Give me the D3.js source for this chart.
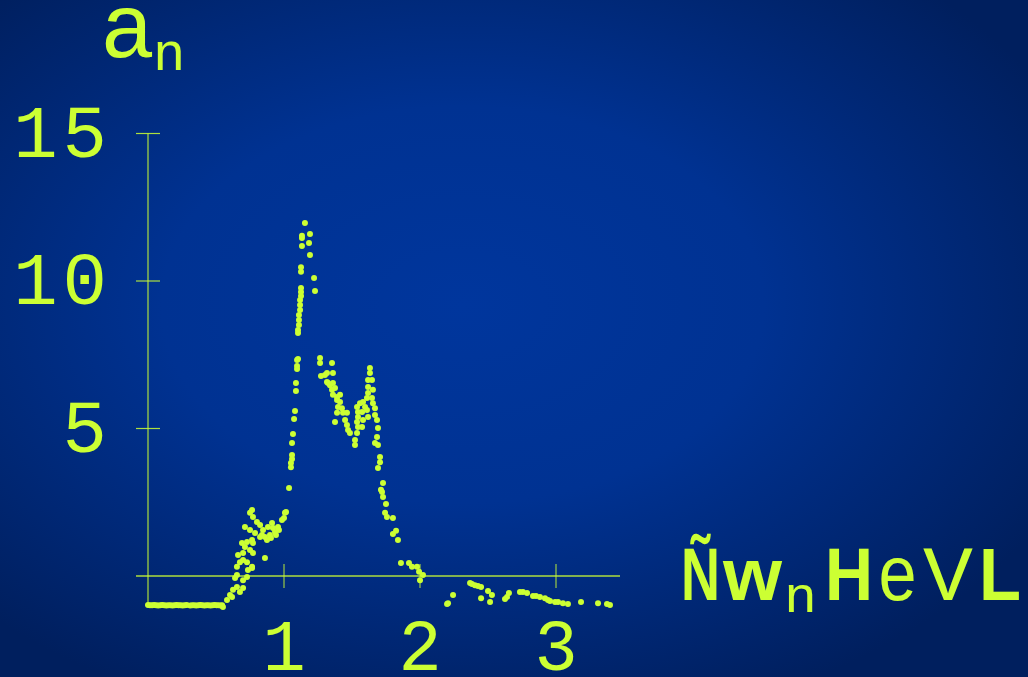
<!DOCTYPE html>
<html>
<head>
<meta charset="utf-8">
<script src="https://cdn.jsdelivr.net/npm/d3@7"></script>
<style>
html,body{margin:0;padding:0;background:#002a7a;}
svg{display:block;}
</style>
</head>
<body>
<svg id="chart" width="1028" height="677"></svg>
<script>
// photon energy (eV)
const omegaN = [
  0.00,0.015,0.03,0.045,0.06,0.075,0.09,0.105,0.12,0.135,0.15,0.165,0.18,0.195,0.21,0.225,0.24,0.255,0.27,0.285,
  0.31,0.325,0.34,0.355,0.37,0.385,0.40,0.415,0.43,0.445,0.46,0.475,0.49,0.505,0.52,0.535,0.545,
  0.551,0.581,0.603,0.618,0.625,0.654,0.676,0.699,0.640,0.654,0.699,0.728,0.735,0.765,0.654,0.676,0.699,0.728,0.765,
  0.662,0.699,0.750,0.772,0.860,0.691,0.728,0.765,0.713,0.772,0.713,0.750,0.787,0.824,0.860,0.897,0.934,0.956,0.985,
  1.007,1.015,1.000,0.750,0.772,0.801,0.765,0.824,0.846,0.882,0.912,0.919,0.838,0.875,0.904,0.941,0.963,
  1.037,1.051,1.051,1.059,1.059,1.059,1.066,1.074,1.081,1.088,1.088,1.096,1.096,1.096,1.103,1.103,1.103,1.110,1.110,
  1.110,1.118,1.118,1.118,1.125,1.125,1.125,1.125,1.125,1.132,1.132,1.132,1.154,1.191,1.184,1.191,1.221,1.228,
  1.265,1.265,1.353,1.272,1.316,1.360,1.316,1.324,1.360,1.375,1.353,1.360,1.390,1.412,1.390,1.412,1.397,1.390,1.426,
  1.434,1.463,1.449,1.463,1.471,1.485,1.375,1.301,1.338,
  1.537,1.544,1.544,1.537,1.544,1.537,1.522,1.522,1.559,1.581,1.610,1.618,1.618,1.618,1.632,1.632,1.647,1.654,1.647,
  1.654,1.669,1.669,1.684,1.691,1.684,1.669,1.691,1.706,1.706,1.691,1.574,1.581,1.574,1.610,1.618,1.596,
  1.728,1.713,1.728,1.750,1.743,1.757,1.801,1.824,1.801,1.838,1.721,1.860,1.919,1.941,1.978,1.993,2.022,2.000,
  2.199,2.206,2.243,2.368,2.382,2.404,2.426,2.449,2.500,2.529,2.449,2.515,2.640,2.654,2.625,2.735,2.757,2.787,2.831,
  2.853,2.882,2.919,2.941,2.956,2.993,3.015,3.051,3.088,3.184,3.309,3.375,3.397
];
// absorption coefficient a_n
const aN = [
  -0.98,-0.99,-0.99,-0.98,-0.99,-1.00,-0.99,-0.98,-0.99,-1.00,-0.99,-0.99,-1.00,-0.99,-0.98,-0.99,-0.99,-1.00,-0.99,-0.98,
  -1.00,-0.99,-0.99,-1.00,-0.99,-0.98,-0.99,-1.00,-0.99,-0.99,-1.00,-0.99,-0.98,-0.99,-0.99,-1.00,-0.99,
  -1.05,-0.81,-0.64,-0.71,-0.47,-0.37,-0.54,-0.41,-0.07,0.03,-0.14,-0.03,0.20,0.27,0.31,0.47,0.54,0.47,0.31,
  0.71,0.78,0.88,0.78,0.61,1.12,1.15,1.22,0.98,1.12,1.66,1.56,1.46,1.32,1.32,1.39,1.49,1.66,1.90,
  2.14,2.17,1.97,2.14,2.00,1.83,2.24,1.73,1.56,1.66,1.80,1.63,1.39,1.22,1.29,1.39,1.56,
  2.98,3.69,3.83,3.97,4.10,4.51,4.81,5.32,5.59,6.27,6.54,7.02,7.12,7.32,7.36,8.24,8.34,8.51,8.68,
  8.85,9.02,9.19,9.36,9.49,9.63,9.76,10.31,10.47,11.19,11.46,11.53,11.97,11.59,11.29,10.88,10.10,9.66,
  7.39,7.22,7.22,6.78,6.88,6.88,6.58,6.54,6.54,6.37,6.31,6.14,6.07,6.14,5.97,5.90,5.73,5.53,5.69,
  5.53,5.53,5.29,5.12,4.95,4.85,5.22,6.81,6.47,
  5.73,5.56,5.39,5.22,5.05,4.85,4.61,4.44,5.86,5.90,6.03,6.20,6.41,6.64,6.88,7.05,6.64,6.31,6.03,
  5.86,5.69,5.46,5.29,5.02,4.71,4.51,4.44,4.03,3.86,3.66,5.56,5.29,5.05,5.63,5.39,5.73,
  3.15,2.92,2.68,2.44,2.14,2.00,1.97,1.53,1.42,1.22,2.85,0.44,0.44,0.31,0.31,0.14,0.03,-0.14,
  -0.95,-0.92,-0.64,-0.24,-0.27,-0.31,-0.34,-0.37,-0.51,-0.64,-0.75,-0.88,-0.71,-0.58,-0.78,-0.54,-0.54,-0.58,-0.68,
  -0.68,-0.71,-0.75,-0.81,-0.85,-0.88,-0.88,-0.92,-0.95,-0.88,-0.92,-0.95,-0.98
];
const xTicks = [1, 2, 3];
const yTicks = [5, 10, 15];
const xTickLabels = ["1", "2", "3"];
const yTickLabels = ["5", "10", "15"];

const svg = d3.select("#chart");
const W = 1028, H = 677;
const FG = "#ccff33";

// background gradient
const defs = svg.append("defs");
const grad = defs.append("radialGradient").attr("id", "bg")
  .attr("cx", "45%").attr("cy", "45%").attr("r", "65%");
grad.append("stop").attr("offset", "0%").attr("stop-color", "#00369d");
grad.append("stop").attr("offset", "45%").attr("stop-color", "#003292");
grad.append("stop").attr("offset", "100%").attr("stop-color", "#001f5e");
svg.append("rect").attr("width", W).attr("height", H).attr("fill", "url(#bg)");

const x = d3.scaleLinear().domain([0, 3]).range([148, 556]);
const y = d3.scaleLinear().domain([0, 15]).range([576, 133.5]);

// axes lines
svg.append("line").attr("x1", x(0)).attr("x2", x(0))
  .attr("y1", y(15)).attr("y2", y(-1))
  .attr("stroke", FG).attr("stroke-width", 1.2).attr("opacity", 0.85);
svg.append("line").attr("x1", 136).attr("x2", 620)
  .attr("y1", y(0)).attr("y2", y(0))
  .attr("stroke", FG).attr("stroke-width", 1.5).attr("opacity", 0.85);

// y ticks
svg.selectAll(".yt").data(yTicks).enter().append("line")
  .attr("x1", 136).attr("x2", 160)
  .attr("y1", d => y(d)).attr("y2", d => y(d))
  .attr("stroke", FG).attr("stroke-width", 1.2).attr("opacity", 0.85);
svg.selectAll(".ytl").data(yTicks).enter().append("text")
  .attr("x", 112).attr("y", d => y(d) + 23)
  .attr("text-anchor", "end")
  .attr("font-family", "Liberation Mono, monospace")
  .attr("font-size", 74).attr("letter-spacing", 5)
  .attr("fill", FG)
  .text((d, i) => yTickLabels[i]);

// x ticks
svg.selectAll(".xt").data(xTicks).enter().append("line")
  .attr("x1", d => x(d)).attr("x2", d => x(d))
  .attr("y1", y(0) - 12).attr("y2", y(0) + 12)
  .attr("stroke", FG).attr("stroke-width", 1.5).attr("opacity", 0.6);
svg.selectAll(".xtl").data(xTicks).enter().append("text")
  .attr("x", d => x(d)).attr("y", 670)
  .attr("text-anchor", "middle")
  .attr("font-family", "Liberation Mono, monospace")
  .attr("font-size", 72)
  .attr("fill", FG)
  .text((d, i) => xTickLabels[i]);

// data points
const pts = omegaN.map((v, i) => [v, aN[i]]);
svg.selectAll(".pt").data(pts).enter().append("circle")
  .attr("cx", d => x(d[0])).attr("cy", d => y(d[1]))
  .attr("r", 3).attr("fill", FG);

// y-axis label a_n
svg.append("text").attr("x", 102).attr("y", 57)
  .attr("font-family", "Liberation Sans, Arial, sans-serif")
  .attr("font-size", 90).attr("fill", FG).text("a");
svg.append("text").attr("x", 153).attr("y", 70)
  .attr("font-family", "Liberation Mono, monospace")
  .attr("font-size", 54).attr("fill", FG).text("n");

// x-axis label
const lab = [
  {t: "Ñ", x: 681, y: 600, fs: 74, fam: "Liberation Sans, Arial, sans-serif", w: 39, b: "bold"},
  {t: "w", x: 723, y: 600, fs: 74, fam: "Liberation Sans, Arial, sans-serif", w: 59, b: "bold"},
  {t: "n", x: 784, y: 612, fs: 50, fam: "Liberation Mono, monospace", w: 33, b: "normal"},
  {t: "H", x: 825, y: 600, fs: 74, fam: "Liberation Sans, Arial, sans-serif", w: 48, b: "bold"},
  {t: "e", x: 877, y: 600, fs: 78, fam: "Liberation Mono, monospace", w: 41, b: "normal"},
  {t: "V", x: 923, y: 600, fs: 78, fam: "Liberation Mono, monospace", w: 50, b: "normal"},
  {t: "L", x: 979, y: 600, fs: 74, fam: "Liberation Sans, Arial, sans-serif", w: 42, b: "bold"}
];
svg.selectAll(".xl").data(lab).enter().append("text")
  .attr("x", d => d.x).attr("y", d => d.y)
  .attr("font-family", d => d.fam).attr("font-size", d => d.fs)
  .attr("font-weight", d => d.b)
  .attr("textLength", d => d.w).attr("lengthAdjust", "spacingAndGlyphs")
  .attr("fill", FG).text(d => d.t);
</script>
</body>
</html>
